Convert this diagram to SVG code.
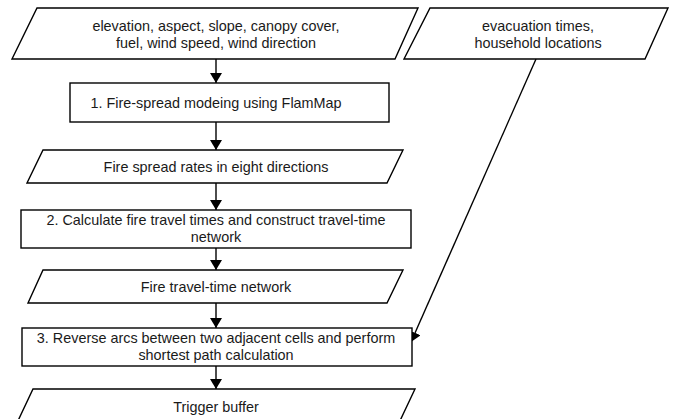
<svg xmlns="http://www.w3.org/2000/svg" width="675" height="419" viewBox="0 0 675 419">
<defs>
<style>
.s{fill:#fff;stroke:#000;stroke-width:1.4}
.t{font-family:"Liberation Sans",Arial,sans-serif;font-size:14.4px;fill:#1a1a1a;text-anchor:middle}
.c{stroke:#000;stroke-width:1.4;fill:none}
</style>
<marker id="ah" viewBox="0 0 10 12" refX="10" refY="6" markerWidth="10" markerHeight="12" markerUnits="userSpaceOnUse" orient="auto">
<path d="M0,0 L10,6 L0,12 Z" fill="#000"/>
</marker>
</defs>
<rect width="675" height="419" fill="#fff"/>
<g id="connectors">
<line class="c" x1="216" y1="59" x2="216" y2="83" marker-end="url(#ah)"/>
<line class="c" x1="216" y1="122" x2="216" y2="150" marker-end="url(#ah)"/>
<line class="c" x1="216" y1="183" x2="216" y2="210" marker-end="url(#ah)"/>
<line class="c" x1="216" y1="248" x2="216" y2="270" marker-end="url(#ah)"/>
<line class="c" x1="216" y1="303" x2="216" y2="328" marker-end="url(#ah)"/>
<line class="c" x1="216" y1="366" x2="216" y2="389" marker-end="url(#ah)"/>
<line class="c" x1="536" y1="59" x2="411" y2="342" marker-end="url(#ah)"/>
</g>
<g id="inputs">
<polygon class="s" points="37,8 418,8 395,59 12,59"/>
<text class="t" x="216" y="31">elevation, aspect, slope, canopy cover,</text>
<text class="t" x="216" y="48">fuel, wind speed, wind direction</text>
</g>
<g id="evac">
<polygon class="s" points="430,8 668,8 645,59 404,59"/>
<text class="t" x="538" y="31">evacuation times,</text>
<text class="t" x="538" y="48">household locations</text>
</g>
<g id="step1">
<rect class="s" x="70" y="83" width="319" height="39"/>
<text class="t" x="216" y="108">1. Fire-spread modeing using FlamMap</text>
</g>
<g id="rates">
<polygon class="s" points="43,150 403,150 387,183 27,183"/>
<text class="t" x="216" y="172">Fire spread rates in eight directions</text>
</g>
<g id="step2">
<rect class="s" x="21" y="210" width="390" height="38"/>
<text class="t" x="216" y="225">2. Calculate fire travel times and construct travel-time</text>
<text class="t" x="216" y="242">network</text>
</g>
<g id="network">
<polygon class="s" points="43,270 403,270 387,303 28,303"/>
<text class="t" x="216" y="292">Fire travel-time network</text>
</g>
<g id="step3">
<rect class="s" x="22" y="328" width="390" height="38"/>
<text class="t" x="216" y="343">3. Reverse arcs between two adjacent cells and perform</text>
<text class="t" x="216" y="360">shortest path calculation</text>
</g>
<g id="trigger">
<polygon class="s" points="33,389 415,389 398,425 16,425"/>
<text class="t" x="216" y="412">Trigger buffer</text>
</g>
</svg>
